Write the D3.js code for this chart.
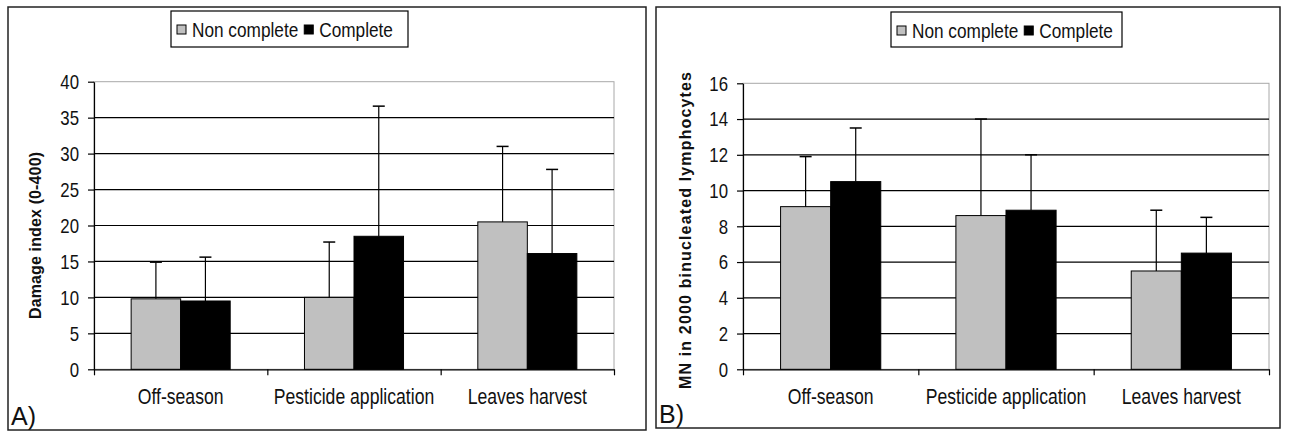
<!DOCTYPE html>
<html>
<head>
<meta charset="utf-8">
<script src="https://cdn.jsdelivr.net/npm/d3@7/dist/d3.min.js"></script>
<style>
  body { margin: 0; background: #fff; }
  svg { display: block; }
  .narrow { font-family: "Liberation Sans", Arial, sans-serif; }
</style>
</head>
<body>
<div id="chart"></div>
<script>
var svgWidth = 1292;
var svgHeight = 432;

// categories + series
var categories = ["Off-season", "Pesticide application", "Leaves harvest"];
var seriesNames = ["Non complete", "Complete"];
var seriesColors = ["#c0c0c0", "#000000"];

// A) damage index (0-400), mean and SD
var damageNon = [9.8, 10.0, 20.5];
var damageNonSd = [5.1, 7.7, 10.5];
var damageComp = [9.5, 18.5, 16.1];
var damageCompSd = [6.1, 18.1, 11.7];
var damageTicks = [0, 5, 10, 15, 20, 25, 30, 35, 40];

// B) MN in 2000 binucleated lymphocytes, mean and SD
var mnNon = [9.1, 8.6, 5.5];
var mnNonSd = [2.8, 5.4, 3.4];
var mnComp = [10.5, 8.9, 6.5];
var mnCompSd = [3.0, 3.1, 2.0];
var mnTicks = [0, 2, 4, 6, 8, 10, 12, 14, 16];

var svg = d3.select("#chart")
  .append("svg")
  .attr("width", svgWidth)
  .attr("height", svgHeight);

// squeeze text horizontally, the original uses a narrow face
function condense(sel, k) {
  sel.each(function() {
    var len = this.getComputedTextLength();
    d3.select(this)
      .attr("textLength", len * k)
      .attr("lengthAdjust", "spacingAndGlyphs");
  });
}

var panels = [
  {
    letter: "A)", title: "Damage index (0-400)",
    frame: [8, 7, 646, 430],
    plot: {left: 94, right: 614, top: 81.7, bottom: 369.3},
    legend: [171, 11, 408, 47],
    titleX: 35, titleY: 235.5, titleLen: 167,
    ticks: damageTicks,
    values: [damageNon, damageComp],
    sds: [damageNonSd, damageCompSd]
  },
  {
    letter: "B)", title: "MN in 2000 binucleated lymphocytes",
    frame: [656, 7, 1280, 428],
    plot: {left: 743, right: 1269, top: 83.3, bottom: 369.3},
    legend: [891, 12, 1122, 47],
    titleX: 685, titleY: 230.5, titleLen: 317,
    ticks: mnTicks,
    values: [mnNon, mnComp],
    sds: [mnNonSd, mnCompSd]
  }
];

panels.forEach(function(p) {
  var g = svg.append("g");

  // outer frame
  g.append("rect")
    .attr("x", p.frame[0])
    .attr("y", p.frame[1])
    .attr("width", p.frame[2] - p.frame[0])
    .attr("height", p.frame[3] - p.frame[1])
    .attr("fill", "#fff")
    .attr("stroke", "#222")
    .attr("stroke-width", 1.5);

  var yScale = d3.scaleLinear()
    .domain([0, d3.max(p.ticks)])
    .range([p.plot.bottom, p.plot.top]);

  var xBand = d3.scaleBand()
    .domain(categories)
    .range([p.plot.left, p.plot.right]);

  var xSub = d3.scaleBand()
    .domain(d3.range(seriesNames.length))
    .range([0, xBand.bandwidth()])
    .paddingInner(0)
    .paddingOuter(0.75);

  // plot area border (light grey)
  g.append("rect")
    .attr("x", p.plot.left)
    .attr("y", p.plot.top)
    .attr("width", p.plot.right - p.plot.left)
    .attr("height", p.plot.bottom - p.plot.top)
    .attr("fill", "none")
    .attr("stroke", "#a8a8a8")
    .attr("stroke-width", 1);

  // gridlines
  g.selectAll(".grid")
    .data(p.ticks.filter(function(t) { return t > 0 && t < d3.max(p.ticks); }))
    .enter()
    .append("line")
    .attr("x1", p.plot.left)
    .attr("x2", p.plot.right)
    .attr("y1", function(d) { return yScale(d); })
    .attr("y2", function(d) { return yScale(d); })
    .attr("stroke", "#000")
    .attr("stroke-width", 1.2);

  // bars
  p.values.forEach(function(vals, si) {
    g.selectAll(".bar" + si)
      .data(vals)
      .enter()
      .append("rect")
      .attr("x", function(d, i) { return xBand(categories[i]) + xSub(si); })
      .attr("y", function(d) { return yScale(d); })
      .attr("width", xSub.bandwidth())
      .attr("height", function(d) { return yScale(0) - yScale(d); })
      .attr("fill", seriesColors[si])
      .attr("stroke", "#000")
      .attr("stroke-width", 1);
  });

  // error bars (plus side only)
  p.values.forEach(function(vals, si) {
    var sd = p.sds[si];
    var cx = function(i) { return xBand(categories[i]) + xSub(si) + xSub.bandwidth() / 2; };
    var eg = g.selectAll(".err" + si)
      .data(vals)
      .enter()
      .append("g");
    eg.append("line")
      .attr("x1", function(d, i) { return cx(i); })
      .attr("x2", function(d, i) { return cx(i); })
      .attr("y1", function(d) { return yScale(d); })
      .attr("y2", function(d, i) { return yScale(d + sd[i]); })
      .attr("stroke", "#000")
      .attr("stroke-width", 1.2);
    eg.append("line")
      .attr("x1", function(d, i) { return cx(i) - 6; })
      .attr("x2", function(d, i) { return cx(i) + 6; })
      .attr("y1", function(d, i) { return yScale(d + sd[i]); })
      .attr("y2", function(d, i) { return yScale(d + sd[i]); })
      .attr("stroke", "#000")
      .attr("stroke-width", 1.5);
  });

  // y axis
  var leftAxis = d3.axisLeft(yScale)
    .tickValues(p.ticks)
    .tickSize(6)
    .tickSizeOuter(0)
    .tickPadding(9)
    .tickFormat(d3.format("d"));

  var yAxis = g.append("g")
    .attr("transform", `translate(${p.plot.left}, 0)`)
    .call(leftAxis);
  yAxis.selectAll("path, line").attr("stroke", "#000").attr("stroke-width", 1.2);
  yAxis.selectAll("text")
    .attr("class", "narrow")
    .style("font-size", "21px")
    .attr("fill", "#111")
    .call(condense, 0.8);

  // x axis with ticks between categories
  var xEdge = d3.scaleLinear()
    .domain([0, categories.length])
    .range([p.plot.left, p.plot.right]);
  var bottomAxis = d3.axisBottom(xEdge)
    .tickValues(d3.range(categories.length + 1))
    .tickSize(6)
    .tickSizeOuter(0)
    .tickFormat("");
  var xAxis = g.append("g")
    .attr("transform", `translate(0, ${p.plot.bottom})`)
    .call(bottomAxis);
  xAxis.selectAll("path, line").attr("stroke", "#000").attr("stroke-width", 1.2);

  g.selectAll(".cat")
    .data(categories)
    .enter()
    .append("text")
    .attr("class", "narrow")
    .attr("x", function(d) { return xBand(d) + xBand.bandwidth() / 2; })
    .attr("y", 404)
    .attr("text-anchor", "middle")
    .style("font-size", "22px")
    .attr("fill", "#111")
    .text(function(d) { return d; })
    .call(condense, 0.8);

  // y axis title
  g.append("text")
    .attr("transform", `translate(${p.titleX}, ${p.titleY}) rotate(-90)`)
    .attr("dy", "0.35em")
    .attr("text-anchor", "middle")
    .attr("textLength", p.titleLen)
    .attr("lengthAdjust", "spacing")
    .style("font-family", "'Liberation Sans', Arial, sans-serif")
    .style("font-weight", "bold")
    .style("font-size", "16px")
    .attr("fill", "#111")
    .text(p.title);

  // panel letter
  g.append("text")
    .attr("x", p.frame[0] + 3)
    .attr("y", p.frame[3] - 5)
    .style("font-family", "'Liberation Sans', Arial, sans-serif")
    .style("font-size", "25px")
    .attr("fill", "#111")
    .text(p.letter);

  // legend
  var lg = g.append("g");
  lg.append("rect")
    .attr("x", p.legend[0])
    .attr("y", p.legend[1])
    .attr("width", p.legend[2] - p.legend[0])
    .attr("height", p.legend[3] - p.legend[1])
    .attr("fill", "#fff")
    .attr("stroke", "#000")
    .attr("stroke-width", 1.2);

  var lx = p.legend[0] + 6;
  seriesNames.forEach(function(name, si) {
    lg.append("rect")
      .attr("x", lx)
      .attr("y", p.legend[1] + 14)
      .attr("width", 9)
      .attr("height", 9)
      .attr("fill", seriesColors[si])
      .attr("stroke", "#000")
      .attr("stroke-width", 1);
    var t = lg.append("text")
      .attr("class", "narrow")
      .attr("x", lx + 15)
      .attr("y", p.legend[1] + 25.5)
      .style("font-size", "21px")
      .attr("fill", "#111")
      .text(name)
      .call(condense, 0.82);
    lx = lx + 15 + (+t.attr("textLength")) + 6;
  });
});
</script>
</body>
</html>
